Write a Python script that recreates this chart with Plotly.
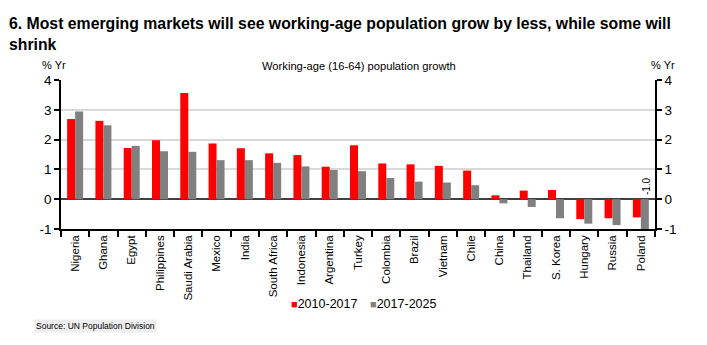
import plotly.graph_objects as go

countries = ["Nigeria", "Ghana", "Egypt", "Philippines", "Saudi Arabia", "Mexico", "India",
             "South Africa", "Indonesia", "Argentina", "Turkey", "Colombia", "Brazil", "Vietnam",
             "Chile", "China", "Thailand", "S. Korea", "Hungary", "Russia", "Poland"]
growth_2010_2017 = [2.69, 2.63, 1.72, 1.98, 3.56, 1.87, 1.71, 1.54, 1.48, 1.09, 1.81, 1.20,
                    1.17, 1.12, 0.96, 0.13, 0.29, 0.31, -0.67, -0.64, -0.61]
growth_2017_2025 = [2.94, 2.48, 1.79, 1.61, 1.59, 1.31, 1.31, 1.22, 1.10, 0.98, 0.94, 0.71,
                    0.59, 0.56, 0.47, -0.14, -0.26, -0.64, -0.82, -0.87, -1.0]
y_ticks = [-1, 0, 1, 2, 3, 4]
y_tick_labels = ["-1", "0", "1", "2", "3", "4"]
series_names = ["2010-2017", "2017-2025"]

RED = "#ff0000"
GREY = "#808080"
SANS = "Liberation Sans, Arial, sans-serif"

# plot-area geometry in pixels, used to place paper-anchored text
L, R, T, B = 61, 52, 80, 116
W, H = 707, 345
PW, PH = W - L - R, H - T - B


def px(x):
    return (x - L) / PW


def py(y):
    return (H - B - y) / PH


fig = go.Figure()
for vals, name, col in [(growth_2010_2017, series_names[0], RED),
                        (growth_2017_2025, series_names[1], GREY)]:
    fig.add_trace(go.Bar(x=countries, y=vals, name=name,
                         marker=dict(color=col, line=dict(width=0)), showlegend=False))

# right-hand duplicate axis
fig.add_trace(go.Scatter(x=[countries[0]], y=[None], yaxis="y2", showlegend=False,
                         hoverinfo="skip"))

axis_common = dict(
    range=[-1, 4], tickvals=y_ticks, ticktext=y_tick_labels,
    showline=True, linecolor="#000000", linewidth=1.5,
    ticks="outside", ticklen=5, tickwidth=1.5, tickcolor="#000000",
    tickfont=dict(family=SANS, size=13.5, color="#000000"),
)

fig.update_layout(
    width=W, height=H,
    margin=dict(l=L, r=R, t=T, b=B),
    paper_bgcolor="white", plot_bgcolor="white",
    barmode="group", bargap=0.434, bargroupgap=0,
    font=dict(family=SANS, color="#000000", size=12),
    showlegend=False,
    xaxis=dict(
        type="category", showline=True, linecolor="#000000", linewidth=1.5,
        ticks="outside", tickson="boundaries", ticklen=6, tickwidth=1.5, tickcolor="#000000",
        tickangle=-90, tickfont=dict(family=SANS, size=11.5, color="#000000"),
        showgrid=False, range=[-0.5, len(countries) - 0.5],
    ),
    yaxis=dict(
        **axis_common,
        showgrid=True, gridcolor="#d9d9d9", gridwidth=1.5,
        zeroline=True, zerolinecolor="#404040", zerolinewidth=1.5,
    ),
    yaxis2=dict(
        **axis_common, overlaying="y", side="right", showgrid=False, zeroline=False,
    ),
)

# value label on the deepest bar
last = len(countries) - 1
fig.add_annotation(x=countries[last], y=0, text=f"{growth_2017_2025[last]:.1f}",
                   textangle=-90, xshift=5, yshift=2, yanchor="bottom", showarrow=False,
                   font=dict(family=SANS, size=10, color="#000000"))

# legend keys
for name, col, x0 in [(series_names[0], RED, 289), (series_names[1], GREY, 368)]:
    fig.add_annotation(xref="paper", yref="paper", x=px(x0), y=py(304),
                       xanchor="left", yanchor="middle", showarrow=False,
                       text=f"<span style='color:{col};font-size:11px'>■</span>{name}",
                       font=dict(family=SANS, size=12.5, color="#000000"))

# titles and notes
fig.add_annotation(xref="paper", yref="paper", x=px(7), y=py(13),
                   xanchor="left", yanchor="top", align="left", showarrow=False,
                   text="<b>6. Most emerging markets will see working-age population grow by less, while some will<br>shrink</b>",
                   font=dict(family=SANS, size=15.8, color="#000000"))
fig.add_annotation(xref="paper", yref="paper", x=px(359), y=py(66),
                   xanchor="center", yanchor="middle", showarrow=False,
                   text="Working-age (16-64) population growth",
                   font=dict(family=SANS, size=11.2, color="#000000"))
fig.add_annotation(xref="paper", yref="paper", x=px(40), y=py(65),
                   xanchor="left", yanchor="middle", showarrow=False, text="% Yr",
                   font=dict(family=SANS, size=11, color="#000000"))
fig.add_annotation(xref="paper", yref="paper", x=px(649), y=py(65),
                   xanchor="left", yanchor="middle", showarrow=False, text="% Yr",
                   font=dict(family=SANS, size=11, color="#000000"))
fig.add_annotation(xref="paper", yref="paper", x=px(34), y=py(326),
                   xanchor="left", yanchor="middle", showarrow=False,
                   text="Source: UN Population Division", bgcolor="#eeeeee",
                   font=dict(family=SANS, size=8.5, color="#000000"))

fig.write_html("out.html")
